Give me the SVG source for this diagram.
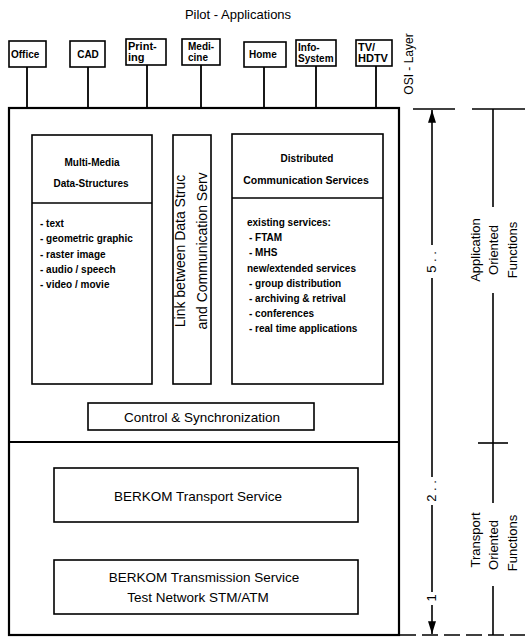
<svg xmlns="http://www.w3.org/2000/svg" width="525" height="637" viewBox="0 0 525 637">
  <defs>
    <marker id="arrow" viewBox="0 0 16 10" refX="16" refY="5" markerWidth="8" markerHeight="5" markerUnits="strokeWidth" orient="auto">
      <path d="M0,0 L16,5 L0,10 z" fill="#000"/>
    </marker>
    <style>
      text { font-family: "Liberation Sans", Arial, sans-serif; fill: #000; }
      .box { fill: #fff; stroke: #000; stroke-width: 1.6; }
      .frame { fill: none; stroke: #000; stroke-width: 2.2; }
      .wire { fill: none; stroke: #000; stroke-width: 1.8; }
      .axis { fill: none; stroke: #000; stroke-width: 1.6; }
      .app { font-size: 10px; font-weight: bold; }
      .lbl { font-size: 10px; font-weight: bold; }
      .mid { text-anchor: middle; }
      .big { font-size: 13.5px; }
      .side { font-size: 13px; }
    </style>
  </defs>

  <!-- heading -->
  <text x="238" y="19" class="mid" style="font-size:13px">Pilot - Applications</text>

  <!-- application boxes -->
  <g id="app-office">
    <rect class="box" x="9" y="41" width="37" height="26"/>
    <text class="app" x="11" y="58">Office</text>
  </g>
  <g id="app-cad">
    <rect class="box" x="70" y="41" width="35" height="26"/>
    <text class="app mid" x="88" y="58">CAD</text>
  </g>
  <g id="app-printing">
    <rect class="box" x="126" y="39" width="40" height="26"/>
    <text class="app" x="128" y="50" style="font-size:11px">Print-</text>
    <text class="app" x="128" y="61" style="font-size:11px">ing</text>
  </g>
  <g id="app-medicine">
    <rect class="box" x="182" y="39" width="38" height="26"/>
    <text class="app" x="188" y="50">Medi-</text>
    <text class="app" x="188" y="61">cine</text>
  </g>
  <g id="app-home">
    <rect class="box" x="244" y="42" width="42" height="25"/>
    <text class="app" x="249" y="58">Home</text>
  </g>
  <g id="app-info">
    <rect class="box" x="296" y="40" width="40" height="26"/>
    <text class="app" x="298" y="51">Info-</text>
    <text class="app" x="298" y="62">System</text>
  </g>
  <g id="app-tv">
    <rect class="box" x="356" y="40" width="36" height="26"/>
    <text class="app" x="358" y="51" style="font-size:11px">TV/</text>
    <text class="app" x="358" y="62" style="font-size:11px">HDTV</text>
  </g>

  <!-- OSI layer caption -->
  <text class="mid" transform="translate(413,64) rotate(-90)" style="font-size:12px">OSI - Layer</text>

  <!-- main frame -->
  <g id="frame">
    <rect class="frame" x="9" y="108" width="390" height="527"/>
    <line class="frame" x1="9" y1="442" x2="399" y2="442"/>
  </g>

  <g id="multimedia">
    <rect class="box" x="32" y="135" width="120" height="249"/>
    <line class="wire" x1="32" y1="203" x2="152" y2="203" style="stroke-width:1.6"/>
    <text class="lbl mid" x="92" y="166">Multi-Media</text>
    <text class="lbl mid" x="91" y="187">Data-Structures</text>
    <text class="lbl" x="40" y="227">- text</text>
    <text class="lbl" x="40" y="242">- geometric graphic</text>
    <text class="lbl" x="40" y="258">- raster image</text>
    <text class="lbl" x="40" y="273">- audio / speech</text>
    <text class="lbl" x="40" y="288">- video / movie</text>
  </g>

  <g id="link">
    <rect class="box" x="173" y="135" width="38" height="249"/>
    <text class="mid" transform="translate(185,251) rotate(-90)" style="font-size:14px">Link between Data Struc</text>
    <text class="mid" transform="translate(207,251) rotate(-90)" style="font-size:14px">and Communication Serv</text>
  </g>

  <g id="distributed">
    <rect class="box" x="232" y="134" width="151" height="250"/>
    <line class="wire" x1="232" y1="198" x2="383" y2="198" style="stroke-width:1.6"/>
    <text class="lbl mid" x="307" y="162">Distributed</text>
    <text class="lbl mid" x="306" y="184" style="font-size:10.5px">Communication Services</text>
    <text class="lbl" x="247" y="226">existing services:</text>
    <text class="lbl" x="249" y="241">- FTAM</text>
    <text class="lbl" x="249" y="256">- MHS</text>
    <text class="lbl" x="247" y="272">new/extended services</text>
    <text class="lbl" x="249" y="287">- group distribution</text>
    <text class="lbl" x="249" y="302">- archiving &amp; retrival</text>
    <text class="lbl" x="249" y="317">- conferences</text>
    <text class="lbl" x="249" y="332">- real time applications</text>
  </g>

  <g id="control">
    <rect class="box" x="88" y="403" width="226" height="27"/>
    <text class="mid big" x="202" y="422">Control &amp; Synchronization</text>
  </g>

  <g id="transport">
    <rect class="box" x="54" y="468" width="304" height="54"/>
    <text class="mid big" x="198" y="501">BERKOM Transport Service</text>
  </g>

  <g id="transmission">
    <rect class="box" x="54" y="560" width="304" height="54"/>
    <text class="mid big" x="204" y="582">BERKOM Transmission Service</text>
    <text class="mid big" x="198" y="602">Test Network STM/ATM</text>
  </g>

  <!-- connectors: application drops and layer scales -->
  <g id="connectors">
    <line class="wire" x1="27" y1="67" x2="27" y2="108"/>
    <line class="wire" x1="88" y1="67" x2="88" y2="108"/>
    <line class="wire" x1="147" y1="65" x2="147" y2="108"/>
    <line class="wire" x1="201" y1="65" x2="201" y2="108"/>
    <line class="wire" x1="264" y1="67" x2="264" y2="108"/>
    <line class="wire" x1="316" y1="66" x2="316" y2="108"/>
    <line class="wire" x1="376" y1="66" x2="376" y2="108"/>

    <!-- OSI layer scale -->
    <line class="axis" x1="413" y1="109" x2="455" y2="109"/>
    <line class="axis" x1="432" y1="245" x2="432" y2="110" marker-end="url(#arrow)"/>
    <line class="axis" x1="432" y1="278" x2="432" y2="477"/>
    <line class="axis" x1="432" y1="505" x2="432" y2="592"/>
    <line class="axis" x1="432" y1="605" x2="432" y2="634" marker-end="url(#arrow)"/>

    <!-- function scale -->
    <line class="axis" x1="472" y1="109" x2="525" y2="109"/>
    <line class="axis" x1="493" y1="109" x2="493" y2="207"/>
    <line class="axis" x1="493" y1="293" x2="493" y2="503"/>
    <line class="axis" x1="478" y1="443" x2="508" y2="443"/>
    <line class="axis" x1="493" y1="586" x2="493" y2="635"/>

    <line class="axis" x1="400" y1="635" x2="525" y2="635" style="stroke-dasharray:16 6"/>
  </g>

  <!-- scale labels -->
  <text class="side" transform="translate(436,262) rotate(-90)" text-anchor="middle">5 . .</text>
  <text class="side" transform="translate(436,491) rotate(-90)" text-anchor="middle">2 . .</text>
  <text class="side" transform="translate(436,598) rotate(-90)" text-anchor="middle">1</text>

  <text class="side mid" transform="translate(480,250) rotate(-90)">Application</text>
  <text class="side mid" transform="translate(498,250) rotate(-90)">Oriented</text>
  <text class="side mid" transform="translate(517,250) rotate(-90)">Functions</text>

  <text class="side mid" transform="translate(480,540) rotate(-90)">Transport</text>
  <text class="side mid" transform="translate(498,545) rotate(-90)">Oriented</text>
  <text class="side mid" transform="translate(517,543) rotate(-90)">Functions</text>
</svg>
